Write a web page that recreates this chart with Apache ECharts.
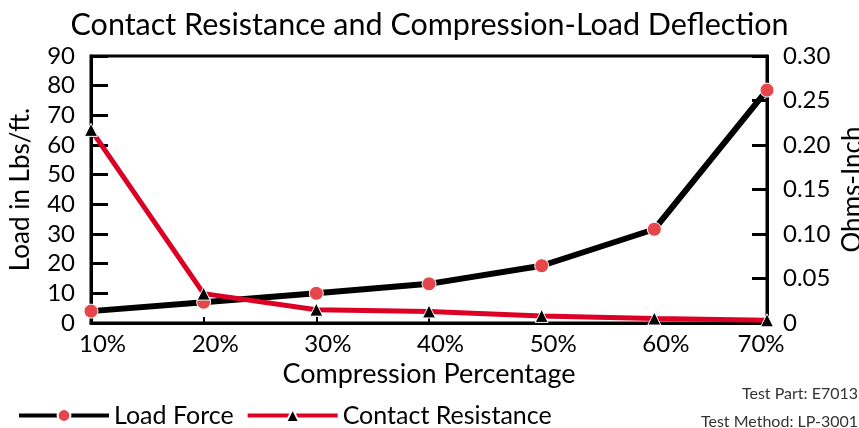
<!DOCTYPE html>
<html>
<head>
<meta charset="utf-8">
<script src="https://cdn.jsdelivr.net/npm/echarts@6/dist/echarts.min.js"></script>
<style>
  html, body { margin: 0; padding: 0; background: #fff; }
  #main { width: 859px; height: 428px; }
</style>
</head>
<body>
<div id="main"></div>
<script>
// 数据
var categories = ['10%', '20%', '30%', '40%', '50%', '60%', '70%'];
var loadForce = [4, 7, 10, 13.2, 19.3, 31.6, 78.5];              // Lbs/ft.
var contactResistance = [0.217, 0.033, 0.015, 0.013, 0.008, 0.005, 0.003]; // Ohms-Inch
var leftTicks = { min: 0, max: 90, interval: 10 };
var rightTicks = { min: 0, max: 0.3, interval: 0.05 };

var FONT = 'Lato';
var tickFont = { color: '#000', fontFamily: FONT, fontSize: 24 };

var chart = echarts.init(document.getElementById('main'));
var option = {
    animation: false,
    title: {
        text: 'Contact Resistance and Compression-Load Deflection',
        left: 'center',
        top: 5,
        textStyle: { color: '#000', fontFamily: FONT, fontSize: 30.5, fontWeight: 'normal' }
    },
    grid: {
        left: 91, right: 92, top: 56, bottom: 105,
        outerBoundsMode: 'none',
        containLabel: false,
        show: true, borderColor: '#000', borderWidth: 3, backgroundColor: 'transparent'
    },
    legend: {
        left: 12,
        top: 398,
        itemWidth: 90,
        itemHeight: 16,
        itemGap: 12,
        lineStyle: { width: 4 },
        textStyle: { color: '#000', fontFamily: FONT, fontSize: 25 },
        data: ['Load Force', 'Contact Resistance']
    },
    xAxis: {
        type: 'category',
        data: categories,
        boundaryGap: false,
        name: 'Compression Percentage',
        nameLocation: 'middle',
        nameGap: 35,
        nameTextStyle: { color: '#000', fontFamily: FONT, fontSize: 27 },
        axisLine: { lineStyle: { color: '#000', width: 3 } },
        axisTick: { inside: true, length: 6, lineStyle: { color: '#000', width: 2 } },
        axisLabel: {
            margin: 9,
            formatter: function (v, i) {
                return i === categories.length - 1 ? '{last|' + v + '}' : '{a|' + v + '}';
            },
            rich: {
                a: { color: '#000', fontFamily: FONT, fontSize: 24, padding: [0, 0, 0, 23] },
                last: { color: '#000', fontFamily: FONT, fontSize: 24, padding: [0, 12, 0, 0] }
            }
        }
    },
    yAxis: [
        {
            type: 'value',
            min: leftTicks.min, max: leftTicks.max, interval: leftTicks.interval,
            name: 'Load in Lbs/ft.',
            nameLocation: 'middle',
            nameRotate: 90,
            nameGap: 57,
            nameTextStyle: { color: '#000', fontFamily: FONT, fontSize: 26 },
            axisLine: { show: true, lineStyle: { color: '#000', width: 3 } },
            axisTick: { show: true, inside: true, length: 17, lineStyle: { color: '#000', width: 3 } },
            splitLine: { show: false },
            axisLabel: Object.assign({ margin: 16 }, tickFont)
        },
        {
            type: 'value',
            position: 'right',
            min: rightTicks.min, max: rightTicks.max, interval: rightTicks.interval,
            name: 'Ohms-Inch',
            nameLocation: 'middle',
            nameRotate: 90,
            nameGap: 73,
            nameMoveOverlap: false,
            nameTextStyle: { color: '#000', fontFamily: FONT, fontSize: 26 },
            axisLine: { show: true, lineStyle: { color: '#000', width: 3 } },
            axisTick: { show: true, inside: true, length: 15, lineStyle: { color: '#000', width: 3 } },
            splitLine: { show: false },
            axisLabel: Object.assign({
                margin: 16,
                formatter: function (v) { return v === 0 ? '0' : v.toFixed(2); }
            }, tickFont)
        }
    ],
    graphic: [
        {
            type: 'text', right: 1, top: 386,
            style: { text: 'Test Part: E7013', fill: '#333', font: '16px ' + FONT, textAlign: 'right' }
        },
        {
            type: 'text', right: 1, top: 414,
            style: { text: 'Test Method: LP-3001', fill: '#333', font: '16px ' + FONT, textAlign: 'right' }
        }
    ],
    series: [
        {
            name: 'Load Force',
            type: 'line',
            yAxisIndex: 0,
            data: loadForce,
            symbol: 'circle',
            symbolSize: 14,
            lineStyle: { color: '#000', width: 6 },
            itemStyle: { color: '#e5454b', borderColor: '#fff', borderWidth: 1 },
            z: 2
        },
        {
            name: 'Contact Resistance',
            type: 'line',
            yAxisIndex: 1,
            data: contactResistance,
            symbol: 'triangle',
            symbolSize: 13,
            lineStyle: { color: '#dc0024', width: 5 },
            itemStyle: { color: '#000', borderColor: '#fff', borderWidth: 1 },
            z: 3
        }
    ]
};
chart.setOption(option);
</script>
</body>
</html>
